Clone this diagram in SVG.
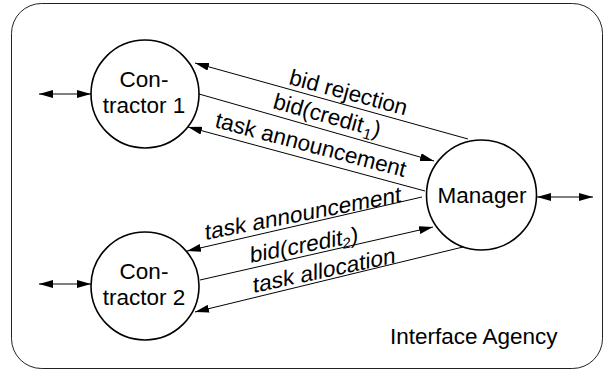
<svg xmlns="http://www.w3.org/2000/svg" width="605" height="371" viewBox="0 0 605 371">
<defs>
<style>
.frame{fill:#fff;stroke:#222;stroke-width:1}
.node{fill:#fff;stroke:#000;stroke-width:1.6}
.ntext{font-family:"Liberation Sans",Arial,Helvetica,sans-serif;font-size:22.5px;fill:#000;text-anchor:middle}
.lbl{font-family:"Liberation Sans",Arial,Helvetica,sans-serif;font-size:22.5px;fill:#000}
.sub{font-size:15px}
.conn{fill:none;stroke:#000;stroke-width:1}
.title{font-family:"Liberation Sans",Arial,Helvetica,sans-serif;font-size:22.5px;fill:#000}
</style>
<marker id="ah" viewBox="0 0 14 8" refX="14" refY="4" markerWidth="14" markerHeight="8" markerUnits="userSpaceOnUse" orient="auto-start-reverse">
<path d="M0,0 L14,4 L0,8 Z" fill="#000"/>
</marker>
</defs>
<rect class="frame" x="11.5" y="3.5" width="591" height="365" rx="30" ry="30"/>
<text class="title" x="390" y="344">Interface Agency</text>
<g id="connectors">
<line class="conn" x1="468" y1="139" x2="195" y2="63" marker-end="url(#ah)"/>
<line class="conn" x1="199" y1="94" x2="434" y2="161" marker-end="url(#ah)"/>
<line class="conn" x1="425" y1="191" x2="188" y2="127" marker-end="url(#ah)"/>
<line class="conn" x1="422" y1="197" x2="187" y2="251" marker-end="url(#ah)"/>
<line class="conn" x1="200" y1="280" x2="433" y2="227" marker-end="url(#ah)"/>
<line class="conn" x1="463" y1="247" x2="195" y2="312" marker-end="url(#ah)"/>
<line class="conn" x1="39" y1="94" x2="91" y2="94" marker-start="url(#ah)" marker-end="url(#ah)"/>
<line class="conn" x1="39" y1="284" x2="91" y2="284" marker-start="url(#ah)" marker-end="url(#ah)"/>
<line class="conn" x1="537" y1="197" x2="593" y2="197" marker-start="url(#ah)" marker-end="url(#ah)"/>
<text class="lbl" transform="translate(288,84) rotate(15)">bid rejection</text>
<text class="lbl" transform="translate(272,108) rotate(15.5)">bid(credit<tspan class="sub" dx="2" dy="5">1</tspan><tspan dy="-5">)</tspan></text>
<text class="lbl" transform="translate(214,127) rotate(14.8)">task announcement</text>
<text class="lbl" transform="translate(205,240) skewY(-11)">task announcement</text>
<text class="lbl" transform="translate(250,263) skewY(-11)">bid(credit<tspan class="sub" dy="4">2</tspan><tspan dy="-4">)</tspan></text>
<text class="lbl" transform="translate(253,293) skewY(-12)">task allocation</text>
</g>
<g id="contractor1">
<circle class="node" cx="145" cy="94" r="54"/>
<text class="ntext" x="144" y="87">Con-</text>
<text class="ntext" x="144" y="113">tractor 1</text>
</g>
<g id="contractor2">
<circle class="node" cx="145" cy="286" r="54"/>
<text class="ntext" x="144" y="279">Con-</text>
<text class="ntext" x="144" y="305">tractor 2</text>
</g>
<g id="manager">
<circle class="node" cx="481.5" cy="195" r="55"/>
<text class="ntext" x="482" y="203">Manager</text>
</g>
</svg>
